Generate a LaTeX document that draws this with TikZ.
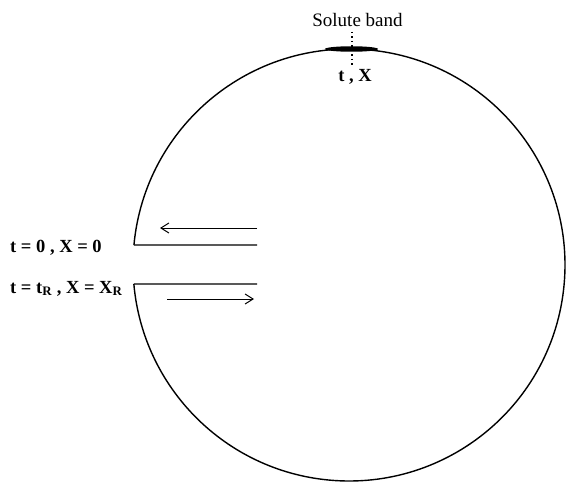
\documentclass[tikz,border=0pt]{standalone}
\usepackage{fontspec}
\setmainfont{Liberation Serif}
\usetikzlibrary{arrows.meta,shapes.geometric}
\begin{document}
\begin{tikzpicture}[x=1pt,y=1pt,
  wall/.style={line width=1.4pt},
  flow/.style={line width=1pt,-{Straight Barb[length=8pt,width=10pt,line width=1pt]}},
  lbl/.style={font=\fontsize{18.5}{20}\selectfont\bfseries,inner sep=0pt},
  ]
\useasboundingbox (0,0) rectangle (567,483);
\coordinate (c) at (349,218);
% circle wall with gap
\draw[wall] (c) ++(174.69:216) coordinate (ustart)
  arc[start angle=174.69, end angle=-174.96, radius=216] coordinate (lstart);
\coordinate (uend) at (257,238);
\coordinate (lend) at (257,199);
\draw[wall] (ustart) -- (uend);
\draw[wall] (lstart) -- (lend);
% arrows
\coordinate (a1s) at (257,255);
\coordinate (a1e) at (160,255);
\coordinate (a2s) at (167,184);
\coordinate (a2e) at (254,184);
\draw[flow] (a1s) -- (a1e);
\draw[flow] (a2s) -- (a2e);
% solute band
\node[fill=black,ellipse,minimum width=53pt,minimum height=5.5pt,inner sep=0pt] (band) at (351.5,434) {};
\coordinate (d1) at (352,451);
\coordinate (d2) at (352,416);
\draw[line width=1.5pt,dash pattern=on 1.5pt off 3pt] (d1) -- (d2);
% labels
\node[font=\fontsize{19}{21}\selectfont,inner sep=0pt,anchor=base] (sb) at (357.5,456) {Solute band};
\node[lbl,anchor=base] (tx) at (355,401) {t , X};
\node[lbl,anchor=base west] (l0) at (10,231) {t = 0 , X = 0};
\node[lbl,anchor=base west] (lR) at (10,190) {t = t\textsubscript{R} , X = X\textsubscript{R}};
\end{tikzpicture}
\end{document}
